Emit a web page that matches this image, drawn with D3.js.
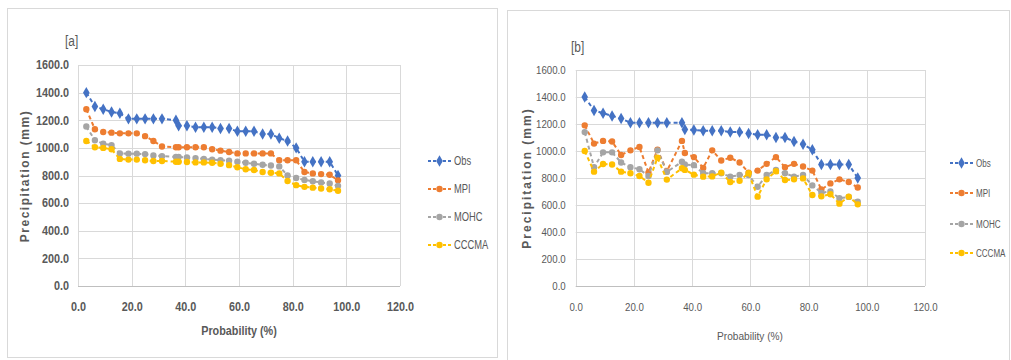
<!DOCTYPE html>
<html>
<head>
<meta charset="utf-8">
<script src="https://cdn.jsdelivr.net/npm/d3@7"></script>
<style>
  body { margin: 0; background: #fff; }
  svg { display: block; }
</style>
</head>
<body>
<div id="chart"></div>
<script>
// exceedance probability (%) shared by both panels
const prob = [3.1, 6.3, 9.4, 12.5, 15.6, 18.8, 21.9, 25.0, 28.1, 31.3, 36.5, 37.5, 40.6, 43.8, 46.9, 50.0,
  53.1, 56.3, 59.4, 62.5, 65.6, 68.8, 71.9, 75.0, 78.1, 81.3, 84.4, 87.5, 90.6, 93.8, 96.9];

// panel [a]
const obsA = [1400, 1300, 1280, 1260, 1250, 1210, 1210, 1210, 1210, 1210, 1200, 1160, 1160, 1150, 1150, 1150,
  1140, 1140, 1120, 1120, 1120, 1100, 1100, 1070, 1050, 1000, 900, 900, 900, 900, 800];
const mpiA = [1280, 1135, 1115, 1110, 1105, 1105, 1105, 1085, 1050, 1010, 1005, 1005, 1005, 1005, 1005, 990,
  980, 970, 960, 960, 960, 960, 960, 910, 910, 910, 825, 815, 810, 805, 765];
const mohcA = [1155, 1055, 1030, 1020, 960, 958, 958, 955, 945, 940, 935, 935, 930, 926, 920, 915,
  910, 907, 900, 892, 885, 878, 872, 866, 800, 782, 768, 758, 750, 742, 725];
const cccmaA = [1050, 1005, 1000, 990, 920, 915, 915, 910, 905, 905, 900, 900, 898, 895, 895, 892,
  885, 875, 860, 845, 840, 825, 820, 815, 760, 730, 718, 712, 706, 700, 690];

// panel [b]
const obsB = [1400, 1300, 1280, 1260, 1240, 1210, 1210, 1210, 1210, 1210, 1210, 1160, 1155, 1150, 1150, 1150,
  1140, 1140, 1130, 1120, 1120, 1100, 1100, 1070, 1050, 1010, 900, 900, 900, 900, 800];
const mpiB = [1190, 1055, 1075, 1070, 970, 1005, 1030, 840, 1010, 850, 1075, 985, 955, 875, 1005, 930,
  950, 915, 840, 855, 905, 955, 880, 905, 885, 855, 715, 760, 790, 770, 730];
const mohcB = [1140, 880, 990, 990, 915, 880, 865, 815, 1005, 845, 920, 900, 895, 835, 835, 835,
  810, 822, 822, 735, 822, 859, 835, 810, 822, 745, 690, 700, 650, 660, 625];
const cccmaB = [1000, 847, 904, 900, 847, 835, 815, 765, 950, 788, 872, 860, 825, 810, 812, 840,
  770, 780, 835, 662, 790, 850, 785, 790, 797, 674, 664, 680, 610, 662, 605];

const seriesNames = ["Obs", "MPI", "MOHC", "CCCMA"];
const seriesColors = ["#4472C4", "#ED7D31", "#A5A5A5", "#FFC000"];
const xTicks = [0, 20, 40, 60, 80, 100, 120];
const yTicks = [0, 200, 400, 600, 800, 1000, 1200, 1400, 1600];

const W = 1011, H = 360;
const svg = d3.select('#chart').append('svg')
  .attr('width', W)
  .attr('height', H);

const font = "'Liberation Sans', Arial, sans-serif";

// squeeze text horizontally to look like the narrow Excel font
function condense(sel, f) {
  sel.each(function() {
    const w = this.getComputedTextLength();
    d3.select(this)
      .attr('textLength', w * f)
      .attr('lengthAdjust', 'spacingAndGlyphs');
  });
}

function marker(i) {
  return d3.symbol().type(i === 0 ? d3.symbolDiamond : d3.symbolCircle).size(i === 0 ? 38 : 32)();
}

function drawPanel(p) {
  const g = svg.append('g');

  g.append('rect')
    .attr('x', p.box[0]).attr('y', p.box[1])
    .attr('width', p.box[2]).attr('height', p.box[3])
    .attr('fill', '#fff')
    .attr('stroke', '#d9d9d9')
    .attr('stroke-width', 1);

  const x = d3.scaleLinear().domain([0, 120]).range([p.left, p.right]);
  const y = d3.scaleLinear().domain([0, 1600]).range([p.bottom, p.top]);

  // grid
  g.append('g').selectAll('line').data(yTicks).enter().append('line')
    .attr('x1', p.left).attr('x2', p.right)
    .attr('y1', d => Math.round(y(d)) + 0.5).attr('y2', d => Math.round(y(d)) + 0.5)
    .attr('stroke', d => d === 0 ? '#bfbfbf' : '#d9d9d9')
    .attr('stroke-width', 1);
  g.append('g').selectAll('line').data(xTicks).enter().append('line')
    .attr('y1', p.top).attr('y2', p.bottom)
    .attr('x1', d => Math.round(x(d)) + 0.5).attr('x2', d => Math.round(x(d)) + 0.5)
    .attr('stroke', '#d9d9d9')
    .attr('stroke-width', 1);

  // axes (labels only, Excel style)
  const yAxis = g.append('g')
    .attr('transform', `translate(${p.left},0)`)
    .call(d3.axisLeft(y).tickValues(yTicks).tickSize(0).tickPadding(p.tickPad).tickFormat(d3.format('.1f')));
  const xAxis = g.append('g')
    .attr('transform', `translate(0,${p.bottom})`)
    .call(d3.axisBottom(x).tickValues(xTicks).tickSize(0).tickPadding(p.xTickPad).tickFormat(d3.format('.1f')));
  [yAxis, xAxis].forEach(a => {
    a.select('.domain').remove();
    a.selectAll('text')
      .attr('font-family', font)
      .attr('font-size', p.tickSize)
      .attr('font-weight', p.tickWeight)
      .attr('fill', p.tickColor)
      .call(condense, p.squeeze);
  });

  // titles
  g.append('text')
    .attr('x', p.tag[0]).attr('y', p.tag[1])
    .attr('font-family', font).attr('font-size', 14)
    .attr('fill', '#595959')
    .text(p.tagText)
    .call(condense, 0.85);

  g.append('text')
    .attr('transform', `translate(${p.yTitle[0]},${p.yTitle[1]}) rotate(-90)`)
    .attr('text-anchor', 'middle')
    .attr('font-family', font)
    .attr('font-size', 12).attr('font-weight', 'bold')
    .attr('letter-spacing', p.yTitleSpacing)
    .attr('fill', '#595959')
    .text('Precipitation (mm)');

  g.append('text')
    .attr('x', p.xTitle[0]).attr('y', p.xTitle[1])
    .attr('text-anchor', 'middle')
    .attr('font-family', font)
    .attr('font-size', p.xTitleSize).attr('font-weight', p.tickWeight)
    .attr('fill', '#595959')
    .text('Probability (%)')
    .call(condense, p.squeeze);

  // series
  const line = d3.line().x(d => x(d[0])).y(d => y(d[1]));
  p.series.forEach((vals, i) => {
    const pts = prob.map((v, k) => [v, vals[k]]);
    const sg = g.append('g');
    sg.append('path')
      .attr('d', line(pts))
      .attr('fill', 'none')
      .attr('stroke', seriesColors[i])
      .attr('stroke-width', 2)
      .attr('stroke-dasharray', '4 3');
    sg.selectAll('path.m').data(pts).enter().append('path')
      .attr('class', 'm')
      .attr('d', marker(i))
      .attr('transform', d => `translate(${x(d[0])},${y(d[1])})`)
      .attr('fill', seriesColors[i]);
  });

  // legend (text squeezed with a transform so its box stays honest)
  const lg = g.append('g');
  seriesNames.forEach((name, i) => {
    const ly = p.legend.y[i];
    lg.append('line')
      .attr('x1', p.legend.x0).attr('x2', p.legend.x1)
      .attr('y1', ly).attr('y2', ly)
      .attr('stroke', seriesColors[i])
      .attr('stroke-width', 2)
      .attr('stroke-dasharray', '3 2');
    lg.append('path')
      .attr('d', marker(i))
      .attr('transform', `translate(${(p.legend.x0 + p.legend.x1) / 2},${ly})`)
      .attr('fill', seriesColors[i]);
    lg.append('text')
      .attr('transform', `translate(${p.legend.x1 + 3},${ly + 4}) scale(${p.legend.squeeze},1)`)
      .attr('font-family', font).attr('font-size', p.legend.size)
      .attr('fill', '#595959')
      .text(name);
  });
}

drawPanel({
  box: [7.5, 8.5, 490, 349],
  left: 78, right: 400, top: 65, bottom: 286,
  tickPad: 9, xTickPad: 16, tickSize: 12, tickWeight: 'bold', tickColor: '#595959', squeeze: 0.9,
  tag: [65, 46], tagText: '[a]',
  yTitle: [29, 176], yTitleSpacing: 1.5,
  xTitle: [239, 335], xTitleSize: 12,
  legend: { x0: 428, x1: 451, y: [161, 189, 217, 245], squeeze: 0.78, size: 12 },
  series: [obsA, mpiA, mohcA, cccmaA]
});

drawPanel({
  box: [507.5, 10.5, 502, 360],
  left: 575.7, right: 925, top: 70, bottom: 286,
  tickPad: 10, xTickPad: 17, tickSize: 11, tickWeight: 'normal', tickColor: '#595959', squeeze: 0.88,
  tag: [571, 52], tagText: '[b]',
  yTitle: [531, 178], yTitleSpacing: 2,
  xTitle: [750, 340], xTitleSize: 11.5,
  legend: { x0: 950, x1: 973, y: [163, 193, 224, 253], squeeze: 0.7, size: 11.5 },
  series: [obsB, mpiB, mohcB, cccmaB]
});
</script>
</body>
</html>
